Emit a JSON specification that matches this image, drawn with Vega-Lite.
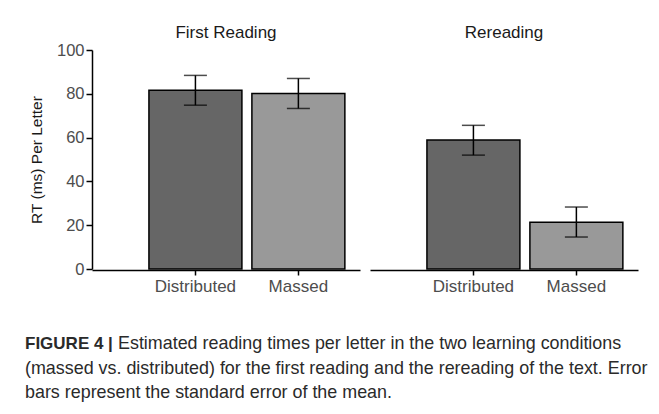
{
  "$schema": "https://vega.github.io/schema/vega-lite/v6.json",
  "background": "white",
  "padding": {"left": 25, "top": 24, "right": 5, "bottom": 5},
  "spacing": 41,
  "config": {
    "font": "Liberation Sans",
    "view": {"stroke": null},
    "axis": {
      "grid": false,
      "domainColor": "black",
      "tickColor": "black",
      "domainWidth": 1.5,
      "tickWidth": 1.5,
      "labelColor": "#4d4d4d",
      "labelFontSize": 17,
      "labelFont": "Liberation Sans"
    }
  },
  "vconcat": [
    {
      "data": {
        "values": [
          {"reading": "First Reading", "condition": "Distributed", "rt": 81.6, "lo": 74.8, "hi": 88.4},
          {"reading": "First Reading", "condition": "Massed", "rt": 80.1, "lo": 73.3, "hi": 87.0},
          {"reading": "Rereading", "condition": "Distributed", "rt": 58.9, "lo": 52.0, "hi": 65.6},
          {"reading": "Rereading", "condition": "Massed", "rt": 21.4, "lo": 14.6, "hi": 28.3}
        ]
      },
      "facet": {
        "column": {
          "field": "reading",
          "type": "nominal",
          "sort": ["First Reading", "Rereading"],
          "header": {
            "title": null,
            "labelFontSize": 17,
            "labelColor": "#1a1a1a",
            "labelFont": "Liberation Sans",
            "labelPadding": 8
          }
        }
      },
      "spacing": 10,
      "spec": {
        "width": 268,
        "height": 219,
        "encoding": {
          "x": {
            "field": "condition",
            "type": "nominal",
            "scale": {"domain": ["Distributed", "Massed"], "paddingInner": 0.097, "paddingOuter": 0.35, "align": 0.79},
            "axis": {"title": null, "labelAngle": 0, "tickSize": 5, "labelPadding": 3}
          }
        },
        "layer": [
          {
            "mark": {"type": "bar", "stroke": "black", "strokeWidth": 1.5},
            "encoding": {
              "y": {
                "field": "rt",
                "type": "quantitative",
                "scale": {"domain": [0, 100]},
                "axis": {
                  "values": [0, 20, 40, 60, 80, 100],
                  "title": "RT (ms) Per Letter",
                  "titleFontSize": 15.5,
                  "titleFontWeight": "normal",
                  "titleColor": "#1a1a1a",
                  "titleFont": "Liberation Sans",
                  "titlePadding": 12,
                  "labelFontSize": 16.5,
                  "tickSize": 6,
                  "labelPadding": 2
                }
              },
              "color": {
                "field": "condition",
                "type": "nominal",
                "scale": {"domain": ["Distributed", "Massed"], "range": ["#666666", "#999999"]},
                "legend": null
              }
            }
          },
          {
            "mark": {"type": "rule", "color": "black", "strokeWidth": 1.5},
            "encoding": {
              "y": {"field": "lo", "type": "quantitative"},
              "y2": {"field": "hi"}
            }
          },
          {
            "mark": {"type": "tick", "orient": "horizontal", "color": "black", "size": 23, "thickness": 1.5},
            "encoding": {"y": {"field": "lo", "type": "quantitative"}}
          },
          {
            "mark": {"type": "tick", "orient": "horizontal", "color": "black", "size": 23, "thickness": 1.5},
            "encoding": {"y": {"field": "hi", "type": "quantitative"}}
          }
        ]
      }
    },
    {
      "width": 545,
      "height": 49,
      "data": {
        "values": [
          {"line": 1, "part": "bold", "text": "FIGURE 4 |"},
          {"line": 1, "part": "lead", "text": "Estimated reading times per letter in the two learning conditions"},
          {"line": 2, "part": "body", "text": "(massed vs. distributed) for the first reading and the rereading of the text. Error"},
          {"line": 3, "part": "body", "text": "bars represent the standard error of the mean."}
        ]
      },
      "encoding": {
        "x": {"value": -67},
        "y": {"field": "line", "type": "ordinal", "axis": null, "scale": {"type": "point", "padding": 0, "domain": [1, 2, 3]}},
        "text": {"field": "text"}
      },
      "layer": [
        {
          "transform": [{"filter": "datum.part == 'bold'"}],
          "mark": {"type": "text", "align": "left", "baseline": "middle", "fontSize": 17, "fontWeight": "bold", "color": "#2a2a2a"}
        },
        {
          "transform": [{"filter": "datum.part == 'lead'"}],
          "mark": {"type": "text", "align": "left", "baseline": "middle", "fontSize": 17.9, "color": "#2a2a2a", "dx": 93}
        },
        {
          "transform": [{"filter": "datum.part == 'body'"}],
          "mark": {"type": "text", "align": "left", "baseline": "middle", "fontSize": 17.9, "color": "#2a2a2a"}
        }
      ]
    }
  ]
}
